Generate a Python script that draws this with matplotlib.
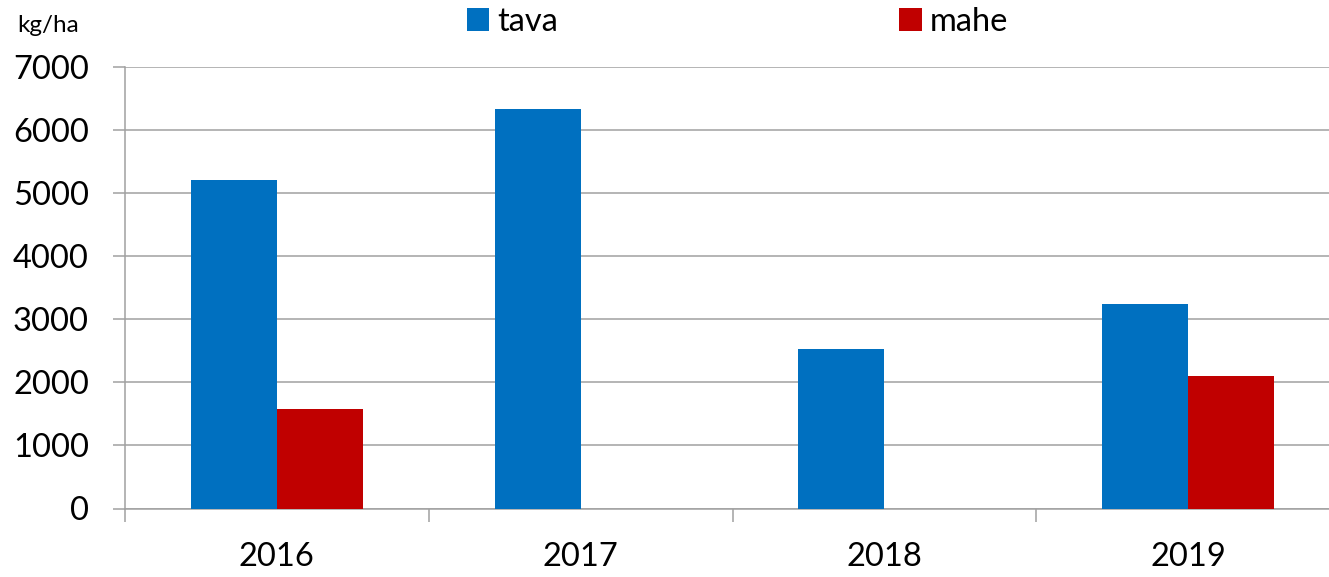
import matplotlib
matplotlib.use("Agg")
import matplotlib.pyplot as plt
import numpy as np

years = ["2016", "2017", "2018", "2019"]
tava = [5210, 6335, 2530, 3250]
mahe = [1570, 0, 0, 2100]
yticks = [0, 1000, 2000, 3000, 4000, 5000, 6000, 7000]

plt.rcParams['font.family'] = ['Lato', 'DejaVu Sans']

fig = plt.figure(figsize=(13.29, 5.77), dpi=100)
L, R, T, B = 125 / 1329, 1340 / 1329, 1 - 67 / 577, 1 - 508.5 / 577
ax = fig.add_axes([L, B, R - L, T - B])

x = np.arange(len(years))
w = 0.283
ax.bar(x - w / 2, tava, width=w, color='#0070C0', label='tava', zorder=3)
mahe_plot = [v if v > 0 else np.nan for v in mahe]
ax.bar(x + w / 2, mahe_plot, width=w, color='#C00000', label='mahe', zorder=3)

gc = '#A0A0A0'
ax.set_xlim(-0.5, len(years) - 0.5)
ax.set_ylim(0, 7000)
ax.set_yticks(yticks)
ax.set_yticklabels([str(v) for v in yticks])
ax.yaxis.grid(True, color=gc, linewidth=1.1, zorder=0)
ax.set_axisbelow(True)

for s in ['top', 'right']:
    ax.spines[s].set_visible(False)
for s in ['left', 'bottom']:
    ax.spines[s].set_color(gc)
    ax.spines[s].set_linewidth(1.1)

ax.tick_params(axis='y', length=9, width=1.1, color=gc, labelsize=23.5, pad=17, labelcolor='black')
ax.set_xticks(x)
ax.set_xticklabels(years)
ax.set_xticks(np.arange(-0.5, len(years), 1.0), minor=True)
ax.tick_params(axis='x', which='major', length=0, labelsize=23.5, pad=24)
ax.tick_params(axis='x', which='minor', length=9, width=1.1, color=gc)

fig.text(17 / 1329, 1 - 25 / 577, 'kg/ha', fontsize=17.5, va='center', ha='left')

leg = fig.legend(loc='upper left', bbox_to_anchor=(467 / 1329, 1 - 7 / 577), ncol=2,
                 frameon=False, fontsize=23.5, handlelength=0.68, handleheight=0.68,
                 handletextpad=0.25, columnspacing=10.45, borderpad=0, borderaxespad=0)

fig.savefig('out.png', dpi=100)
